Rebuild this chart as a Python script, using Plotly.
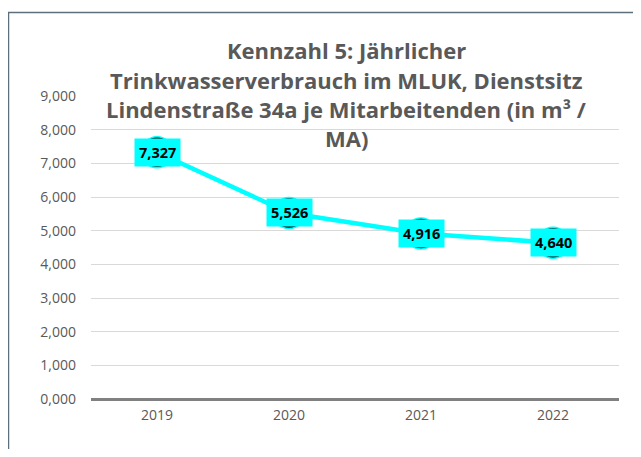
import plotly.graph_objects as go

years = ["2019", "2020", "2021", "2022"]
values = [7.327, 5.526, 4.916, 4.640]
y_ticks = [0, 1, 2, 3, 4, 5, 6, 7, 8, 9]
title_lines = [
    "Kennzahl 5: Jährlicher",
    "Trinkwasserverbrauch im MLUK, Dienstsitz",
    "Lindenstraße 34a je Mitarbeitenden (in m³ /",
    "MA)",
]

OFF = 8  # page body margin
W, H = 641 - OFF, 457 - 2 * OFF
L, R, T, B = 83, 22, 88, 50
pw, ph = W - L - R, H - T - B


def px(xs):
    return (xs - OFF - L) / pw


def py(ys):
    return (H - B - (ys - OFF)) / ph


fig = go.Figure()
fig.add_trace(go.Scatter(
    x=list(range(len(years))), y=values, mode="lines+markers",
    line=dict(color="#00FFFF", width=4.5),
    marker=dict(size=31, color="#000000", line=dict(color="#00FFFF", width=1.5)),
    hoverinfo="skip", showlegend=False,
))

annotations = []
for i, v in enumerate(values):
    annotations.append(dict(
        x=i, y=v, xref="x", yref="y",
        text="<b>" + ("%.3f" % v).replace(".", ",") + "</b>",
        showarrow=False, bgcolor="#00FFFF", borderpad=4,
        font=dict(family="Open Sans", size=14.5, color="#000000"),
    ))

line_y = [50, 80, 109, 138]
for txt, yy in zip(title_lines, line_y):
    annotations.append(dict(
        x=px(346), y=py(yy), xref="paper", yref="paper",
        yanchor="middle", xanchor="center",
        text="<b>" + txt + "</b>", showarrow=False,
        font=dict(family="Open Sans", size=22, color="#595959"),
    ))

fig.update_layout(
    width=W, height=H,
    margin=dict(l=L, r=R, t=T, b=B),
    paper_bgcolor="#FFFFFF", plot_bgcolor="#FFFFFF",
    separators=",.",
    annotations=annotations,
    shapes=[dict(type="rect", xref="paper", yref="paper",
                 x0=px(8.5), x1=px(660), y0=py(12.5), y1=py(480),
                 line=dict(color="#5B6F7C", width=1.5), layer="below")],
    xaxis=dict(
        range=[-0.5, len(years) - 0.5], automargin=False,
        tickvals=list(range(len(years))), ticktext=years,
        showgrid=False, zeroline=False, showline=False, ticks="",
        tickfont=dict(family="Open Sans", size=14, color="#595959"),
        ticklabelstandoff=6,
    ),
    yaxis=dict(
        range=[0, 9], tickvals=y_ticks, tickformat=".3f", automargin=False,
        showgrid=True, gridcolor="#D9D9D9", gridwidth=1,
        zeroline=True, zerolinecolor="#808080", zerolinewidth=2.5,
        showline=False, ticks="",
        tickfont=dict(family="Open Sans", size=14, color="#595959"),
        ticklabelstandoff=14,
    ),
)

fig.write_html("out.html")
